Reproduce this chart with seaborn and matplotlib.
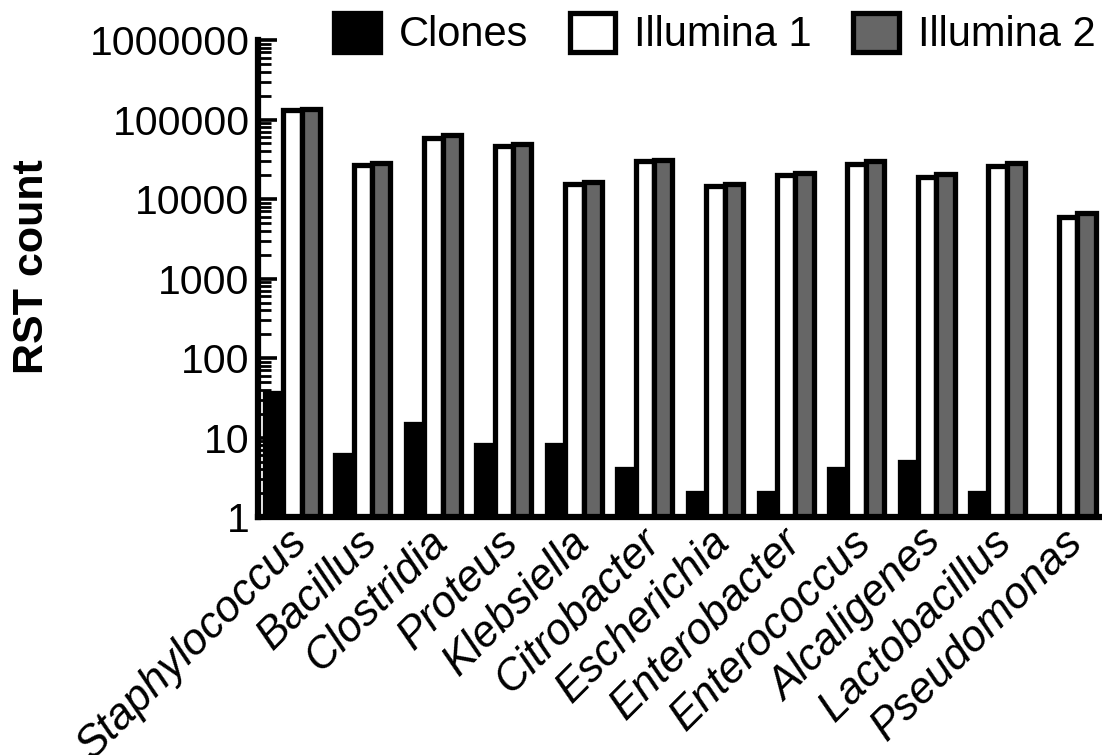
import numpy as np
import pandas as pd
import matplotlib
matplotlib.use("Agg")
import matplotlib.pyplot as plt
import matplotlib.transforms as mtransforms
import seaborn as sns

# données
genres = ["Staphylococcus", "Bacillus", "Clostridia", "Proteus", "Klebsiella",
          "Citrobacter", "Escherichia", "Enterobacter", "Enterococcus",
          "Alcaligenes", "Lactobacillus", "Pseudomonas"]
clones = [36, 6, 15, 8, 8, 4, 2, 2, 4, 5, 2, 1]
illumina1 = [131000, 27200, 58900, 46200, 15400, 30300, 14700, 20000, 27500, 19000, 26200, 6000]
illumina2 = [137000, 28800, 63700, 49400, 16600, 31300, 15400, 21000, 29800, 20600, 28400, 6700]
series = ["Clones", "Illumina 1", "Illumina 2"]

df = pd.DataFrame({"genre": genres, "Clones": clones,
                   "Illumina 1": illumina1, "Illumina 2": illumina2})
df = df.melt(id_vars="genre", var_name="serie", value_name="count")

sns.set_style("ticks")
plt.rcParams["font.family"] = ["Liberation Sans", "DejaVu Sans"]
plt.rcParams["text.color"] = "black"
plt.rcParams["axes.labelcolor"] = "black"
plt.rcParams["xtick.color"] = "black"
plt.rcParams["ytick.color"] = "black"
plt.rcParams["axes.edgecolor"] = "black"

fig = plt.figure(figsize=(11.02, 7.55), dpi=100)
ax = fig.add_axes([0.234, 0.315, 0.764, 0.632])

couleurs = {"Clones": "black", "Illumina 1": "white", "Illumina 2": "#666666"}
sns.barplot(data=df, x="genre", y="count", hue="serie", hue_order=series,
            palette=couleurs, edgecolor="black", linewidth=3.8,
            width=0.78, saturation=1, ax=ax)

ax.set_yscale("log")
ax.set_ylim(1, 1e6)
ax.set_xlim(-0.49, 11.45)
ax.set_yticks([1, 10, 100, 1000, 10000, 100000, 1000000])
ax.set_yticklabels(["1", "10", "100", "1000", "10000", "100000", "1000000"])
ax.yaxis.set_minor_locator(matplotlib.ticker.LogLocator(base=10, subs=np.arange(2, 10), numticks=100))
ax.yaxis.set_minor_formatter(matplotlib.ticker.NullFormatter())

ax.tick_params(axis="y", which="major", direction="in", length=14, width=2.6,
               labelsize=29.5, pad=6)
ax.tick_params(axis="y", which="minor", direction="in", length=9, width=2.0)
ax.tick_params(axis="x", which="major", direction="in", length=8, width=3, pad=3)
ax.set_xticks(range(len(genres)))
ax.set_xticklabels(genres, rotation=45, ha="right", rotation_mode="anchor",
                   fontsize=31.5, style="italic")
decalage = mtransforms.ScaledTranslation(-6 / 100, 0, fig.dpi_scale_trans)
for lab in ax.get_xticklabels():
    lab.set_transform(lab.get_transform() + decalage)

for s in ["top", "right"]:
    ax.spines[s].set_visible(False)
for s in ["left", "bottom"]:
    ax.spines[s].set_linewidth(4.5)

ax.set_xlabel("")
ax.set_ylabel("RST count", fontsize=31, fontweight="bold")
ax.yaxis.set_label_coords(-0.245, 0.525)

handles, labels = ax.get_legend_handles_labels()
ax.get_legend().remove()
fig.legend(handles, labels, loc="upper right", bbox_to_anchor=(1.017, 1.016),
           ncol=3, frameon=False, fontsize=30, handlelength=1.1,
           handleheight=1.05, handletextpad=0.45, columnspacing=1.0,
           borderaxespad=0.2)

fig.savefig("out.png", dpi=100)
